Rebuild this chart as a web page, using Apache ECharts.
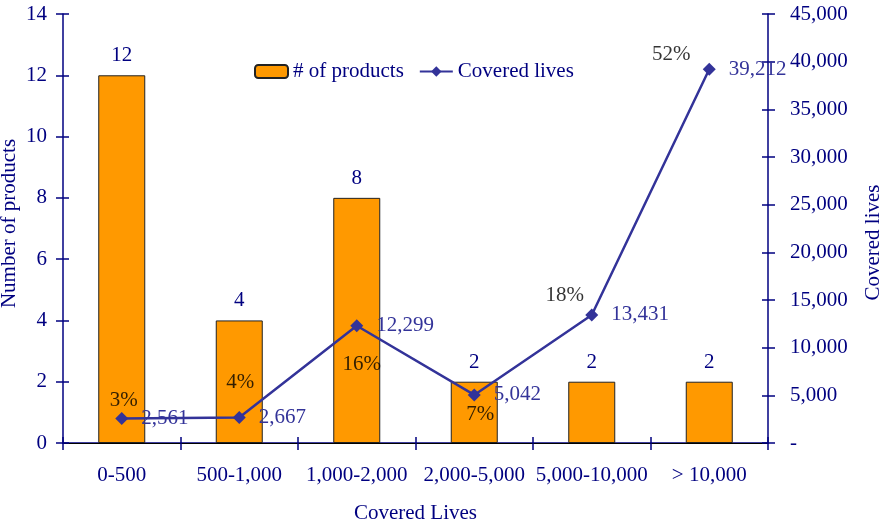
<!DOCTYPE html>
<html>
<head>
<meta charset="utf-8">
<script src="https://cdn.jsdelivr.net/npm/echarts@6/dist/echarts.min.js"></script>
<style>
  html, body { margin: 0; padding: 0; background: #fff; }
  #chart { width: 879px; height: 521px; }
</style>
</head>
<body>
<div id="chart"></div>
<script>
// Product counts and covered lives by plan size band
const categories = ['0-500', '500-1,000', '1,000-2,000', '2,000-5,000', '5,000-10,000', '> 10,000'];
const productCounts = [12, 4, 8, 2, 2, 2];
const coveredLives = [2561, 2667, 12299, 5042, 13431, 39212];
const sharePct = ['3%', '4%', '16%', '7%', '18%', '52%'];

// Where each share label sits relative to its point (px)
const shareOffsets = [[2, -18], [1, -35], [5, 39], [6, 20], [-27, -19], [-38, -15]];

const FONT = '"Liberation Serif", "Times New Roman", serif';
const NAVY = '#000080';
const LINE = '#333399';
const FS = 21;

const leftScale = { min: 0, max: 14, interval: 2 };
const rightScale = { min: 0, max: 45000, interval: 5000 };

function fmtThousands(v) {
  return v === 0 ? '-' : v.toLocaleString('en-US');
}

const chart = echarts.init(document.getElementById('chart'), null, { renderer: 'canvas' });

chart.setOption({
  animation: false,
  backgroundColor: '#fff',
  textStyle: { fontFamily: FONT },
  grid: { left: 63, right: 111, top: 14, bottom: 78, containLabel: false, outerBoundsMode: 'none' },
  legend: {
    data: ['# of products', 'Covered lives'],
    left: 254,
    top: 61,
    padding: 0,
    itemWidth: 33,
    itemHeight: 13,
    itemGap: 15,
    textStyle: { fontFamily: FONT, fontSize: FS, color: NAVY }
  },
  xAxis: [
    {
      type: 'category',
      data: categories,
      position: 'bottom',
      axisLine: { lineStyle: { color: NAVY, width: 1.5 } },
      axisTick: { show: true, inside: false, length: 7, lineStyle: { color: NAVY, width: 1.5 } },
      axisLabel: { fontFamily: FONT, fontSize: FS, color: NAVY, margin: 22, interval: 0 },
      splitLine: { show: false }
    },
    {
      // plot frame along the top
      type: 'category',
      data: categories,
      position: 'top',
      axisLine: { lineStyle: { color: '#000', width: 1 } },
      axisTick: { show: false },
      axisLabel: { show: false },
      splitLine: { show: false }
    },
    {
      // inward half of the crossing ticks, and the axis title
      type: 'category',
      data: categories,
      position: 'bottom',
      name: 'Covered Lives',
      nameLocation: 'middle',
      nameGap: 60,
      nameMoveOverlap: false,
      nameTextStyle: { fontFamily: FONT, fontSize: FS, color: NAVY },
      axisLine: { show: false },
      axisTick: { show: true, inside: true, length: 6, lineStyle: { color: NAVY, width: 1.5 } },
      axisLabel: { show: false },
      splitLine: { show: false }
    }
  ],
  yAxis: [
    Object.assign({
      type: 'value',
      position: 'left',
      name: 'Number of products',
      nameLocation: 'middle',
      nameGap: 43,
      nameMoveOverlap: false,
      nameTextStyle: { fontFamily: FONT, fontSize: FS, color: NAVY, padding: [0, 0, 0, 10] },
      axisLine: { show: true, lineStyle: { color: NAVY, width: 1.5 } },
      axisTick: { show: true, inside: false, length: 7, lineStyle: { color: NAVY, width: 1.5 } },
      axisLabel: { fontFamily: FONT, fontSize: FS, color: NAVY, margin: 16 },
      splitLine: { show: false }
    }, leftScale),
    Object.assign({
      type: 'value',
      position: 'right',
      name: 'Covered lives',
      nameLocation: 'middle',
      nameGap: 95,
      nameRotate: 90,
      nameMoveOverlap: false,
      nameTextStyle: { fontFamily: FONT, fontSize: FS, color: NAVY, padding: [0, 28, 0, 0] },
      axisLine: { show: true, lineStyle: { color: NAVY, width: 1.5 } },
      axisTick: { show: true, inside: false, length: 7, lineStyle: { color: NAVY, width: 1.5 } },
      axisLabel: { fontFamily: FONT, fontSize: FS, color: NAVY, margin: 22, formatter: fmtThousands },
      splitLine: { show: false }
    }, rightScale),
    Object.assign({
      type: 'value',
      position: 'left',
      axisLine: { show: false },
      axisTick: { show: true, inside: true, length: 6, lineStyle: { color: NAVY, width: 1.5 } },
      axisLabel: { show: false },
      splitLine: { show: false }
    }, leftScale),
    Object.assign({
      type: 'value',
      position: 'right',
      axisLine: { show: false },
      axisTick: { show: true, inside: true, length: 6, lineStyle: { color: NAVY, width: 1.5 } },
      axisLabel: { show: false },
      splitLine: { show: false }
    }, rightScale)
  ],
  series: [
    {
      name: '# of products',
      type: 'bar',
      xAxisIndex: 0,
      yAxisIndex: 0,
      data: productCounts,
      barWidth: 47,
      itemStyle: { color: '#FF9900', borderColor: '#222', borderWidth: 1 },
      label: {
        show: true,
        position: 'top',
        distance: 9,
        fontFamily: FONT,
        fontSize: FS,
        color: NAVY
      },
      z: 2
    },
    {
      name: 'Covered lives',
      type: 'line',
      xAxisIndex: 0,
      yAxisIndex: 1,
      data: coveredLives,
      symbol: 'diamond',
      symbolSize: 13,
      lineStyle: { color: LINE, width: 2.5 },
      itemStyle: { color: LINE },
      label: {
        show: true,
        position: 'right',
        distance: 13,
        fontFamily: FONT,
        fontSize: FS,
        color: LINE,
        formatter: p => p.value.toLocaleString('en-US')
      },
      z: 4
    },
    {
      name: 'share',
      type: 'scatter',
      xAxisIndex: 0,
      yAxisIndex: 1,
      symbol: 'circle',
      symbolSize: 1,
      itemStyle: { color: 'rgba(0,0,0,0)' },
      data: coveredLives.map((v, i) => ({
        value: v,
        label: { offset: shareOffsets[i] }
      })),
      label: {
        show: true,
        position: 'inside',
        fontFamily: FONT,
        fontSize: FS,
        color: '#000',
        formatter: p => sharePct[p.dataIndex]
      },
      z: 5
    }
  ]
});
</script>
</body>
</html>
